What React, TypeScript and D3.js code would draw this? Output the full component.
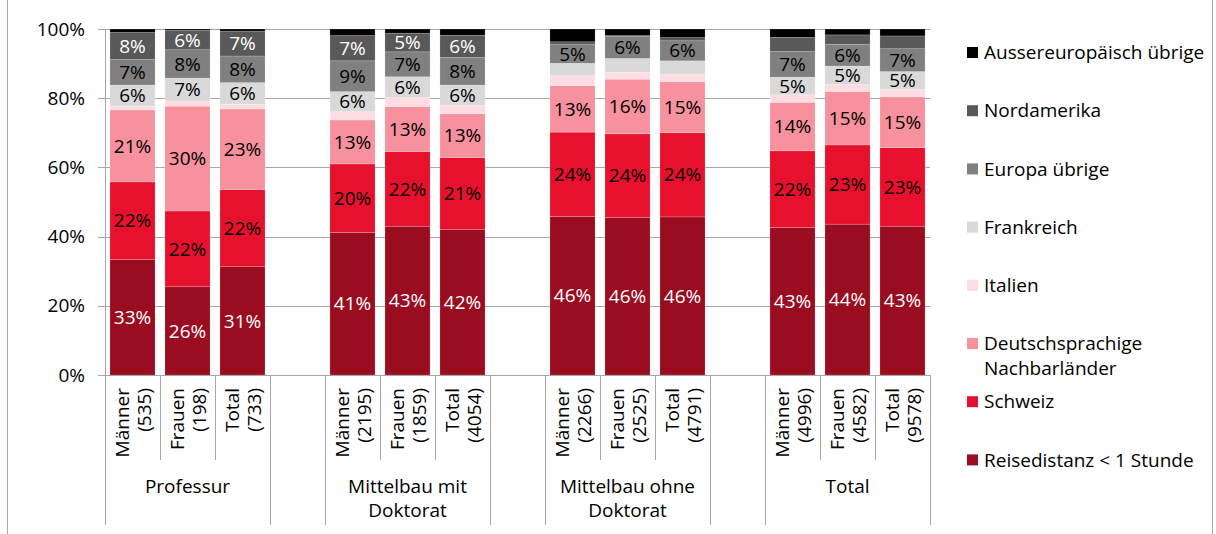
import React from 'react';
import * as d3 from 'd3';

// categories
const groups = ['Professur', 'Mittelbau mit\nDoktorat', 'Mittelbau ohne\nDoktorat', 'Total'];
const genders = ['Männer', 'Frauen', 'Total'];
const counts = [535, 198, 733, 2195, 1859, 4054, 2266, 2525, 4791, 4996, 4582, 9578];

// series, bottom to top
const seriesNames = [
  'Reisedistanz < 1 Stunde',
  'Schweiz',
  'Deutschsprachige\nNachbarländer',
  'Italien',
  'Frankreich',
  'Europa übrige',
  'Nordamerika',
  'Aussereuropäisch übrige',
];
const reise = [33.4, 25.5, 31.3, 41.2, 43.0, 42.1, 45.8, 45.5, 45.7, 42.6, 43.6, 43.0];
const schweiz = [22.4, 21.9, 22.3, 19.8, 21.6, 20.7, 24.4, 24.2, 24.3, 22.2, 22.9, 22.7];
const deutsch = [20.8, 30.3, 23.3, 12.7, 13.0, 12.7, 13.4, 15.8, 14.8, 14.0, 15.4, 14.7];
const italien = [1.1, 1.5, 1.3, 2.4, 2.6, 2.5, 2.9, 2.0, 2.2, 2.2, 2.1, 2.2];
const frankreich = [6.1, 6.6, 6.3, 5.8, 6.0, 5.8, 3.6, 4.0, 3.8, 5.1, 5.3, 5.1];
const europa = [7.4, 8.2, 7.7, 8.9, 7.2, 8.0, 5.4, 6.3, 5.8, 7.4, 6.3, 6.6];
const nordamerika = [7.8, 5.6, 7.2, 7.3, 5.4, 6.4, 0.8, 0.3, 0.9, 4.1, 2.7, 3.7];
const aussereuropa = [1.0, 0.4, 0.6, 1.9, 1.2, 1.8, 3.7, 1.9, 2.5, 2.4, 1.7, 2.0];

const yTicks = [0, 20, 40, 60, 80, 100];

const colors = ['#9a0c1f', '#e8112d', '#f6919d', '#fddde1', '#d9d9d9', '#808080', '#595959', '#000000'];
const labelColors = ['#ffffff', '#000000', '#000000', '#000000', '#000000', '#000000', '#ffffff', '#ffffff'];

const FONT = "'Open Sans', sans-serif";
const GRID = '#a6a6a6';
const FS = 19;

export default function App() {
  const W = 1216;
  const H = 534;
  const left = 105;
  const right = 930;
  const top = 29;
  const bottom = 375;

  const seriesValues = [reise, schweiz, deutsch, italien, frankreich, europa, nordamerika, aussereuropa];
  const rows = counts.map((c, i) => {
    const r: Record<string, number> = {};
    seriesNames.forEach((s, k) => (r[s] = seriesValues[k][i]));
    return r;
  });
  const stacked = d3.stack<Record<string, number>>().keys(seriesNames)(rows);

  // slots: 3 bars per group + one empty slot between groups
  const slots: string[] = [];
  const barSlot: string[] = [];
  groups.forEach((g, gi) => {
    genders.forEach((_, i) => {
      const id = `b${gi}-${i}`;
      slots.push(id);
      barSlot.push(id);
    });
    if (gi < groups.length - 1) slots.push(`gap${gi}`);
  });

  const x = d3.scaleBand<string>().domain(slots).range([left, right]).paddingInner(0.18).paddingOuter(0.09);
  const step = x.step();
  const slotLeft = (id: string) => (x(id) || 0) - step * 0.09;
  const y = d3.scaleLinear().domain([0, 100]).range([bottom, top]);

  // long separator lines (group edges) and short ones between bars
  const longLines: number[] = [];
  const shortLines: number[] = [];
  groups.forEach((_, gi) => {
    const first = slotLeft(`b${gi}-0`);
    longLines.push(first, first + step * 3);
    shortLines.push(first + step, first + step * 2);
  });

  const legendY = (k: number) => 52.5 + k * 58.2;
  const legendOrder = [...seriesNames].reverse();

  return (
    <svg width={W} height={H} style={{ position: 'absolute', left: 0, top: 0, background: '#fff' }} fontFamily={FONT}>
      <line x1={7.5} x2={7.5} y1={0} y2={H} stroke={GRID} />
      <line x1={1212.5} x2={1212.5} y1={0} y2={H} stroke={GRID} />

      {/* grid + y axis */}
      {yTicks.map(t => (
        <g key={t}>
          <line x1={left - 7} x2={right} y1={Math.round(y(t)) + 0.5} y2={Math.round(y(t)) + 0.5} stroke={GRID} />
          <text x={85} y={y(t)} dy="0.35em" textAnchor="end" fontSize={FS} fill="#000">
            {t}%
          </text>
        </g>
      ))}
      <line x1={left + 0.5} x2={left + 0.5} y1={top} y2={bottom} stroke={GRID} />

      {/* bars */}
      {stacked.map((s, k) => (
        <g key={s.key}>
          {s.map((d, i) => {
            const x0 = x(barSlot[i]) || 0;
            const h = y(d[0]) - y(d[1]);
            const v = d[1] - d[0];
            return (
              <g key={i}>
                <rect x={x0} width={x.bandwidth()} y={y(d[1])} height={h} fill={colors[k]} stroke="rgba(255,255,255,0.3)" strokeWidth={0.6} />
                {v >= 4.5 && (
                  <text x={x0 + x.bandwidth() / 2} y={y((d[0] + d[1]) / 2)} dy="0.35em" textAnchor="middle" fontSize={FS} fill={labelColors[k]}>
                    {Math.round(v + 1e-6)}%
                  </text>
                )}
              </g>
            );
          })}
        </g>
      ))}

      {/* x axis */}
      <line x1={left - 7} x2={right} y1={bottom + 0.5} y2={bottom + 0.5} stroke={GRID} />
      {longLines.map((lx, i) => (
        <line key={'l' + i} x1={Math.round(lx) + 0.5} x2={Math.round(lx) + 0.5} y1={bottom} y2={525} stroke={GRID} />
      ))}
      {shortLines.map((lx, i) => (
        <line key={'s' + i} x1={Math.round(lx) + 0.5} x2={Math.round(lx) + 0.5} y1={bottom} y2={460} stroke={GRID} />
      ))}
      {barSlot.map((id, i) => {
        const cx = (x(id) || 0) + x.bandwidth() / 2;
        return (
          <text key={id} transform={`translate(${cx},388) rotate(-90)`} textAnchor="end" fontSize={FS} fill="#000">
            <tspan x={0} y={-4}>{genders[i % 3]}</tspan>
            <tspan x={0} y={18}>({counts[i]})</tspan>
          </text>
        );
      })}
      {groups.map((g, gi) => {
        const cx = slotLeft(`b${gi}-0`) + step * 1.5;
        return (
          <text key={g} x={cx} y={493} textAnchor="middle" fontSize={FS} fill="#000">
            {g.split('\n').map((line, li) => (
              <tspan key={li} x={cx} y={493 + li * 24}>
                {line}
              </tspan>
            ))}
          </text>
        );
      })}

      {/* legend */}
      {legendOrder.map((name, k) => {
        const ci = seriesNames.length - 1 - k;
        const ly = legendY(k);
        return (
          <g key={name}>
            <rect x={967} y={ly - 5.5} width={11} height={11} fill={colors[ci]} />
            {name.split('\n').map((line, li) => (
              <text key={li} x={984} y={ly + li * 25} dy="0.35em" fontSize={FS} fill="#000">
                {line}
              </text>
            ))}
          </g>
        );
      })}
    </svg>
  );
}
